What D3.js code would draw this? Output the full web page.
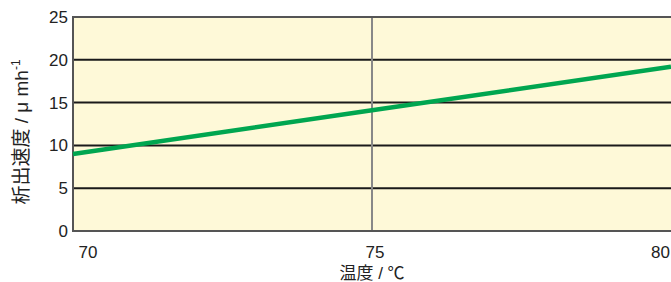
<!DOCTYPE html>
<html lang="ja">
<head>
<meta charset="UTF-8">
<script src="https://d3js.org/d3.v7.min.js"></script>
<style>
  body { margin: 0; background: #fff; overflow: hidden; }
  svg { display: block; font-family: "Liberation Sans", Arial, "Noto Sans CJK JP", sans-serif; }
</style>
</head>
<body>
<svg id="chart" width="671" height="282"></svg>
<script>
// data
const temps = [70, 75, 80];
const rates = [9.0, 14.1, 19.2];
const yTicks = [0, 5, 10, 15, 20, 25];
const xTicks = [70, 75, 80];

const W = 671, H = 282;
const m = { left: 73, right: 0, top: 17, bottom: 51 };

const svg = d3.select("#chart");
const x = d3.scaleLinear().domain([70, 80]).range([m.left, W - m.right]);
const y = d3.scaleLinear().domain([0, 25]).range([H - m.bottom, m.top]);

// plot background
svg.append("rect")
  .attr("x", x(70)).attr("y", y(25))
  .attr("width", x(80) - x(70)).attr("height", y(0) - y(25))
  .attr("fill", "#fef9d8");

// horizontal grid
svg.selectAll(".hgrid").data(yTicks.filter(d => d > 0 && d < 25)).enter()
  .append("line")
  .attr("x1", x(70)).attr("x2", x(80))
  .attr("y1", d => y(d)).attr("y2", d => y(d))
  .attr("stroke", "#1a1a1a").attr("stroke-width", 2);

// vertical line at 75
svg.append("line")
  .attr("x1", x(75)).attr("x2", x(75))
  .attr("y1", y(25)).attr("y2", y(0))
  .attr("stroke", "#888").attr("stroke-width", 2);

// frame: top, left, bottom
svg.append("path")
  .attr("d", `M${x(80)},${y(25)}H${x(70)}V${y(0)}H${x(80)}`)
  .attr("fill", "none").attr("stroke", "#555").attr("stroke-width", 2);

// data line
svg.append("path")
  .datum(temps.map((t, i) => [t, rates[i]]))
  .attr("d", d3.line().x(d => x(d[0])).y(d => y(d[1])))
  .attr("fill", "none").attr("stroke", "#00a650").attr("stroke-width", 4.5);

// y tick labels
svg.selectAll(".ylab").data(yTicks).enter()
  .append("text")
  .attr("x", 68).attr("y", d => y(d) + 6)
  .attr("text-anchor", "end")
  .attr("font-size", 17).attr("fill", "#222")
  .text(d => d);

// x tick labels
svg.selectAll(".xlab").data(xTicks).enter()
  .append("text")
  .attr("x", (d, i) => i === 0 ? x(d) + 15 : i === 2 ? x(d) - 1 : x(d) + 3)
  .attr("y", 258)
  .attr("text-anchor", (d, i) => i === 2 ? "end" : "middle")
  .attr("font-size", 17).attr("fill", "#222")
  .text(d => d);

// axis titles
svg.append("text")
  .attr("x", x(75)).attr("y", 279)
  .attr("text-anchor", "middle")
  .attr("font-size", 17).attr("fill", "#222")
  .text("温度 / ℃");

const yt = svg.append("text")
  .attr("transform", `translate(28,132) rotate(-90)`)
  .attr("text-anchor", "middle")
  .attr("font-size", 19).attr("fill", "#222");
yt.append("tspan").text("析出速度 / μ mh");
yt.append("tspan").attr("dy", -8).attr("font-size", 12).text("-1");
</script>
</body>
</html>
